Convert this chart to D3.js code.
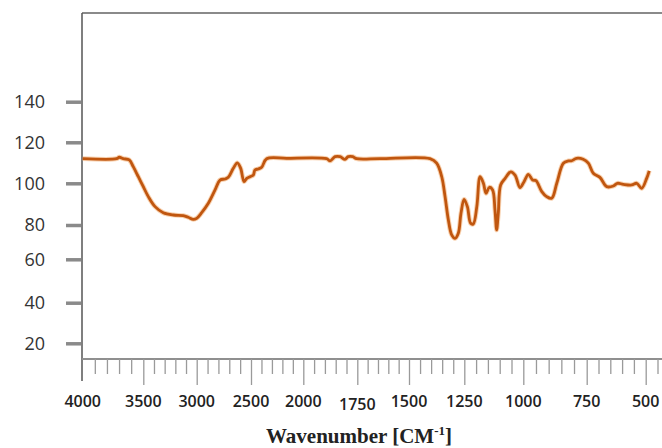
<!DOCTYPE html>
<html>
<head>
<meta charset="utf-8">
<script src="https://cdn.jsdelivr.net/npm/d3@7/dist/d3.min.js"></script>
<style>
  html, body { margin: 0; padding: 0; background: #fff; }
  svg { display: block; }
</style>
</head>
<body>
<svg id="chart" width="662" height="448"></svg>
<script>
// ---- data ----
const xTickLabels = [4000, 3500, 3000, 2500, 2000, 1750, 1500, 1250, 1000, 750, 500];
const yTickLabels = [20, 40, 60, 80, 100, 120, 140];
const wavenumber = [4000, 3720, 3698, 3665, 3616, 3583, 3541, 3500, 3453, 3390, 3313, 3219, 3126, 3079, 3032, 3000,
  2954, 2893, 2831, 2785, 2739, 2709, 2663, 2626, 2595, 2564, 2539, 2509, 2478, 2462, 2431, 2398, 2350, 2159,
  1892, 1876, 1853, 1830, 1807, 1792, 1771, 1753, 1640, 1405, 1375, 1352, 1337, 1322, 1307, 1292, 1277, 1265,
  1251, 1237, 1223, 1212, 1197, 1183, 1169, 1158, 1144, 1130, 1120, 1113, 1106, 1096, 1077, 1053, 1035, 1014,
  997, 980, 963, 950, 927, 908, 888, 868, 842, 822, 809, 790, 764, 743, 722, 694, 665, 637, 620, 595, 559, 538,
  517, 496, 485];
const transmittance = [112, 112, 112.7, 112, 111.4, 108.1, 103.2, 98.4, 93.6, 88.8, 85.9, 84.8, 84.5, 83.7, 82.7, 83.2,
  85.9, 90.4, 96.8, 101.6, 102.1, 102.9, 107.3, 110, 107.3, 100.8, 102.4, 103.2, 104, 106.5, 107, 107.8, 112, 112.2,
  112, 110.9, 113, 113, 111.7, 113, 113, 112, 112, 112, 109.8, 103.2, 93.6, 82.4, 74.2, 72.2, 75.2, 85.6,
  92.3, 88.8, 80.8, 80.5, 88.8, 103.2, 100, 95.2, 98.1, 96.8, 87.2, 77.1, 85.6, 99.2, 102.4, 105.6, 104, 97.9,
  100.8, 104.4, 101.6, 101.3, 96, 93.6, 92.8, 100, 109.8, 110.9, 111, 112.2, 111.7, 109.8, 104.9, 102.9, 98.4, 98.7, 100, 99.5, 99.2, 100,
  97.6, 102.4, 106.1];
const xAxisTitle = "Wavenumber [CM";
const xAxisSup = "-1";

// ---- layout ----
const svg = d3.select("#chart");
const mLeft = 82, mRight = 662, mTop = 13, mBottom = 359;

// the printed axis is hand-spaced: map each labelled wavenumber to its tick position
const x = d3.scaleLinear()
  .domain(xTickLabels)
  .range([82.7, 143.3, 196.7, 251, 303.3, 357.3, 409, 464.3, 523.3, 586.7, 645.7]);
const y = d3.scaleLinear()
  .domain(yTickLabels)
  .range([343.3, 302.7, 259.3, 225, 183.3, 142.3, 101.7]);

// frame lines
svg.append("line").attr("x1", mLeft).attr("x2", mRight).attr("y1", mTop).attr("y2", mTop)
  .attr("stroke", "#8a8a8a").attr("stroke-width", 2);
svg.append("line").attr("x1", mLeft).attr("x2", mLeft).attr("y1", mTop).attr("y2", 381)
  .attr("stroke", "#555").attr("stroke-width", 1.5);
svg.append("line").attr("x1", mLeft).attr("x2", mRight).attr("y1", mBottom).attr("y2", mBottom)
  .attr("stroke", "#8f8f8f").attr("stroke-width", 2);

// minor ticks
const minors = [];
for (let i = 0; i < xTickLabels.length - 1; i++) {
  const a = xTickLabels[i], b = xTickLabels[i + 1];
  for (let k = 1; k < 5; k++) minors.push(a + (b - a) * k / 5);
}
minors.push(450);

const gMinor = svg.append("g").attr("transform", `translate(0,${mBottom})`)
  .call(d3.axisBottom(x).tickValues(minors).tickSize(15).tickFormat(""));
gMinor.select(".domain").remove();
gMinor.selectAll(".tick line").attr("stroke", "#9a9a9a").attr("stroke-width", 1.3);

const gMajor = svg.append("g").attr("transform", `translate(0,${mBottom})`)
  .call(d3.axisBottom(x).tickValues(xTickLabels.slice(1)).tickSize(26).tickFormat(""));
gMajor.select(".domain").remove();
gMajor.selectAll(".tick line").attr("stroke", "#9a9a9a").attr("stroke-width", 1.3);

svg.append("g").selectAll("text").data(xTickLabels).join("text")
  .attr("x", d => x(d)).attr("y", d => d === 1750 ? 410 : 407)
  .attr("text-anchor", "middle")
  .attr("font-family", "'Open Sans', sans-serif")
  .attr("font-weight", 600).attr("font-size", 16)
  .attr("fill", "#222")
  .text(d => d);

// y ticks
const gY = svg.append("g").attr("transform", `translate(${mLeft - 1},0)`)
  .call(d3.axisLeft(y).tickValues(yTickLabels).tickSize(15).tickFormat(""));
gY.select(".domain").remove();
gY.selectAll(".tick line").attr("stroke", "#8a8a8a").attr("stroke-width", 3.5);

svg.append("g").selectAll("text").data(yTickLabels).join("text")
  .attr("x", 45).attr("y", d => y(d))
  .attr("dy", "0.36em")
  .attr("text-anchor", "end")
  .attr("font-family", "'Open Sans', sans-serif")
  .attr("font-size", 18)
  .attr("fill", "#333")
  .text(d => d);

// x axis title
const title = svg.append("text")
  .attr("x", 359).attr("y", 443)
  .attr("text-anchor", "middle")
  .attr("font-family", "'Liberation Serif', 'Times New Roman', serif")
  .attr("font-weight", "bold").attr("font-size", 21)
  .attr("fill", "#222");
title.append("tspan").text(xAxisTitle);
title.append("tspan").attr("dy", -8).attr("font-size", 13).text(xAxisSup);
title.append("tspan").attr("dy", 8).text("]");

// spectrum
const pts = wavenumber.map((w, i) => [w, transmittance[i]]);
const line = d3.line().x(d => x(d[0])).y(d => y(d[1])).curve(d3.curveCatmullRom.alpha(0.5));
svg.append("path").datum(pts).attr("d", line)
  .attr("fill", "none").attr("stroke", "#f3b27a").attr("stroke-width", 4.8).attr("stroke-linejoin", "round").attr("opacity", 0.6);
svg.append("path").datum(pts).attr("d", line)
  .attr("fill", "none").attr("stroke", "#c0560f").attr("stroke-width", 2.8).attr("stroke-linejoin", "round");
</script>
</body>
</html>
